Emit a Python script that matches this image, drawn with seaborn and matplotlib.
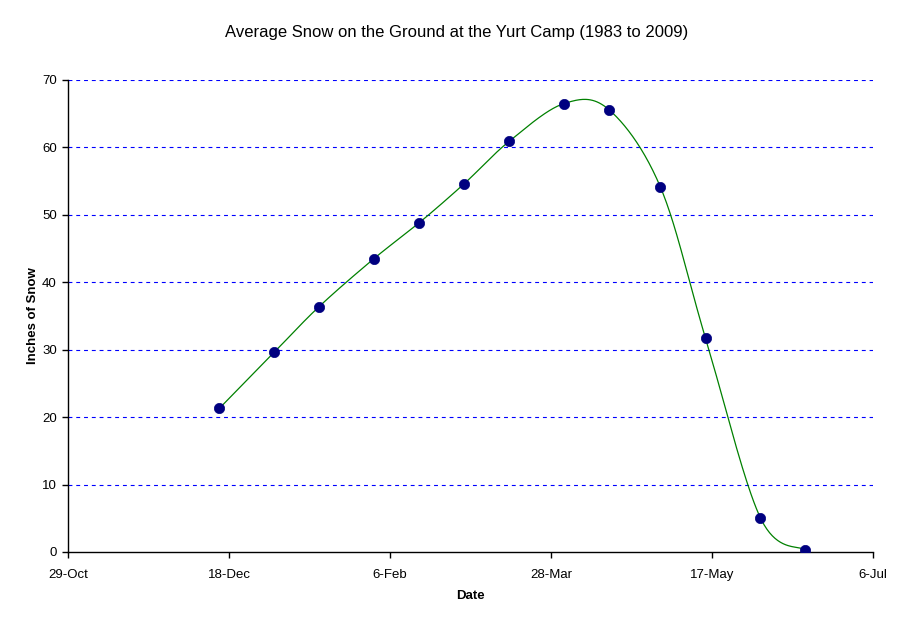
import numpy as np
import pandas as pd
import matplotlib
matplotlib.use("Agg")
import matplotlib.pyplot as plt
import matplotlib.dates as mdates
import seaborn as sns

# data (1st and 15th of each month)
dates = ["2008-12-15", "2009-01-01", "2009-01-15", "2009-02-01", "2009-02-15",
         "2009-03-01", "2009-03-15", "2009-04-01", "2009-04-15", "2009-05-01",
         "2009-05-15", "2009-06-01", "2009-06-15"]
snow = [21.3, 29.6, 36.4, 43.5, 48.8, 54.6, 60.9, 66.5, 65.6, 54.1, 31.7, 5.1, 0.3]

x_start = "2008-10-29"
x_end = "2009-07-06"
y_ticks = [0, 10, 20, 30, 40, 50, 60, 70]

title = "Average Snow on the Ground at the Yurt Camp (1983 to 2009)"
x_label = "Date"
y_label = "Inches of Snow"

df = pd.DataFrame({"date": pd.to_datetime(dates), "snow": snow})

sns.set_style("white")
plt.rcParams["font.family"] = ["Liberation Sans", "DejaVu Sans"]
plt.rcParams["text.color"] = "black"
plt.rcParams["axes.labelcolor"] = "black"
plt.rcParams["xtick.color"] = "black"
plt.rcParams["ytick.color"] = "black"

fig = plt.figure(figsize=(9.08, 6.23), dpi=100)
ax = fig.add_axes([68 / 908, 1 - 552 / 623, 805 / 908, 472 / 623])


# Excel-style smoothed line (Catmull-Rom through the points)
def smooth(xs, ys, n=40):
    p = np.column_stack([xs, ys])
    p = np.vstack([p[0], p, p[-1]])
    out = []
    for i in range(1, len(p) - 2):
        p0, p1, p2, p3 = p[i - 1], p[i], p[i + 1], p[i + 2]
        c1 = p1 + (p2 - p0) / 6
        c2 = p2 - (p3 - p1) / 6
        t = np.linspace(0, 1, n)[:, None]
        seg = ((1 - t) ** 3) * p1 + 3 * ((1 - t) ** 2) * t * c1 + 3 * (1 - t) * t ** 2 * c2 + t ** 3 * p2
        out.append(seg)
    out = np.vstack(out)
    return out[:, 0], out[:, 1]


xnum = mdates.date2num(df["date"])
sx, sy = smooth(xnum, df["snow"].values)
curve = pd.DataFrame({"date": mdates.num2date(sx), "snow": sy})
sns.lineplot(data=curve, x="date", y="snow", ax=ax, color="#008000", linewidth=0.9,
             sort=False, estimator=None)
sns.scatterplot(data=df, x="date", y="snow", ax=ax, color="#000080", s=55,
                edgecolor="#000080", linewidth=0.5, zorder=3)

# axes
ax.set_xlim(pd.Timestamp(x_start), pd.Timestamp(x_end))
ax.set_ylim(y_ticks[0], y_ticks[-1])
ticks = pd.date_range(x_start, x_end, freq="50D")
ax.set_xticks(ticks)
ax.xaxis.set_major_formatter(plt.FuncFormatter(
    lambda v, pos: f"{mdates.num2date(v).day}-{mdates.num2date(v).strftime('%b')}"))
ax.set_yticks(y_ticks)

for yv in y_ticks[1:]:
    ax.axhline(yv, color="#0000ff", linewidth=0.8, linestyle=(0, (3.5, 3.5)), zorder=1)

for side in ["top", "right"]:
    ax.spines[side].set_visible(False)
for side in ["left", "bottom"]:
    ax.spines[side].set_color("black")
    ax.spines[side].set_linewidth(1)

ax.tick_params(axis="both", direction="out", length=4, width=1, color="black",
               labelsize=9.5, bottom=True, left=True)
ax.tick_params(axis="x", pad=8)
ax.tick_params(axis="y", pad=4)

ax.set_xlabel(x_label, fontsize=9.5, fontweight="bold", labelpad=7)
ax.set_ylabel(y_label, fontsize=9.5, fontweight="bold", labelpad=2)
fig.text(457 / 908, 1 - 32 / 623, title, ha="center", va="center", fontsize=12)

fig.savefig("out.png", dpi=100, facecolor="white")
